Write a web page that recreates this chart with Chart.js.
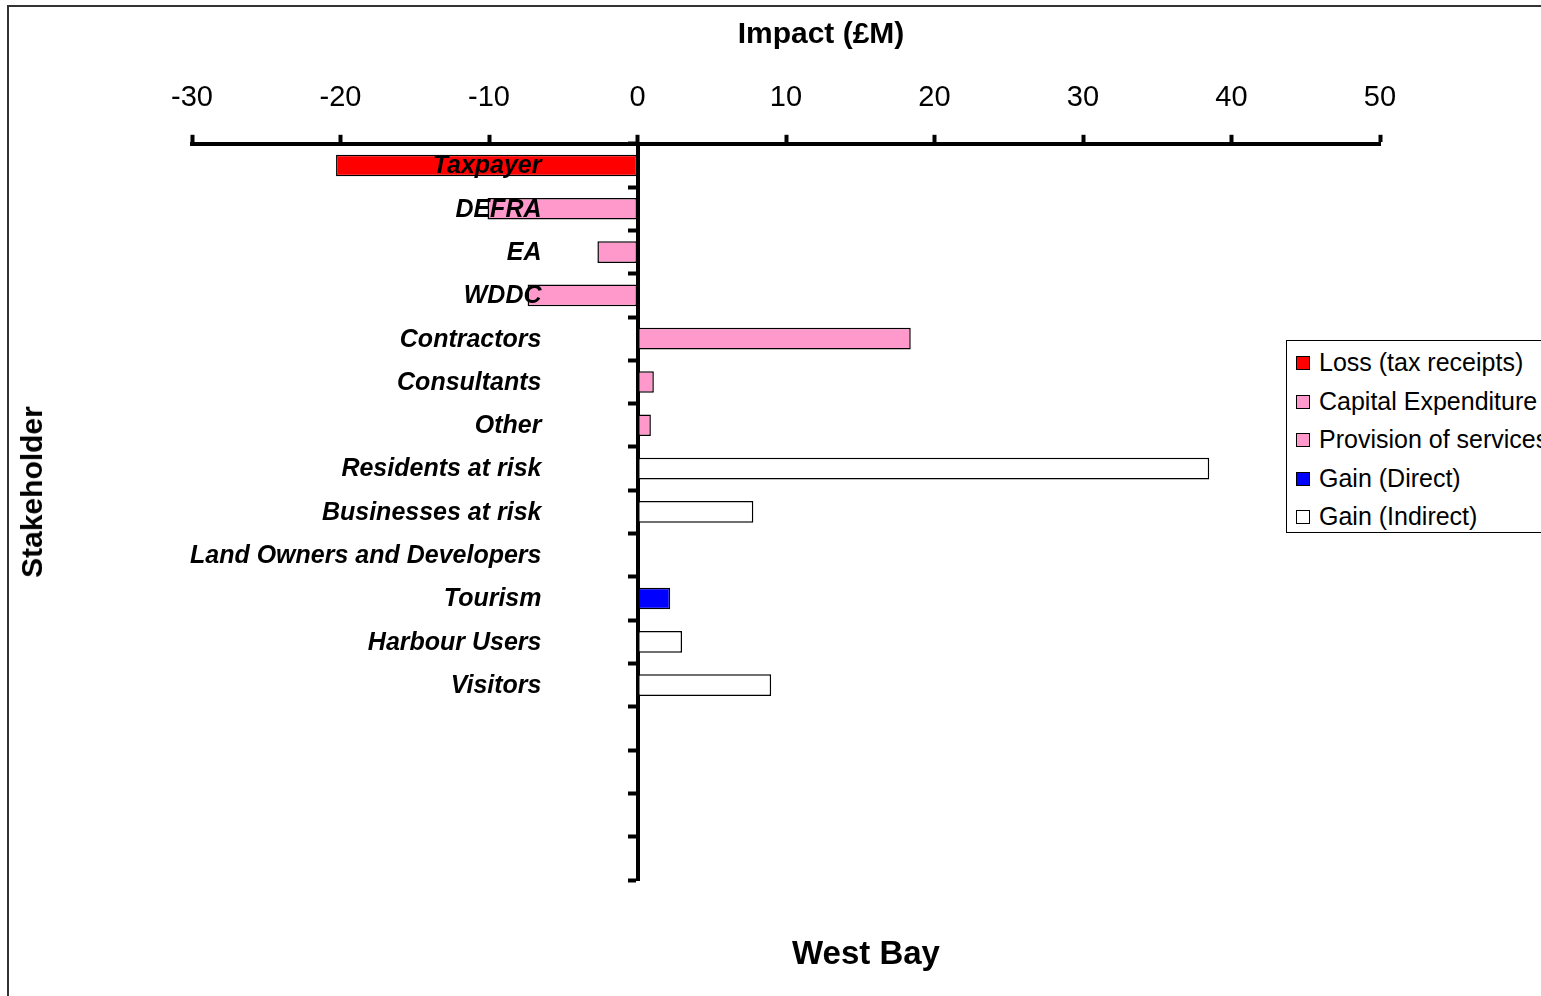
<!DOCTYPE html>
<html lang="en">
<head>
    <meta charset="UTF-8">
    <title>West Bay - Impact by Stakeholder</title>
    <script src="https://cdn.jsdelivr.net/npm/chart.js"></script>
    <style>
        html, body {
            margin: 0;
            padding: 0;
            background: #fff;
            overflow: hidden;
            font-family: "Liberation Sans", Arial, sans-serif;
        }

        #wrap {
            position: relative;
            width: 1541px;
            height: 996px;
        }

        /* frame runs off the right and bottom edge like the original */
        #frame {
            position: absolute;
            left: 7px;
            top: 5px;
            width: 1600px;
            height: 1100px;
            border-top: 2px solid #333;
            border-left: 2px solid #333;
        }

        .title {
            position: absolute;
            font-weight: bold;
            color: #000;
            white-space: nowrap;
        }

        #xTitle { left: 821px; top: 33px; font-size: 30px; transform: translate(-50%, -50%); }
        #yTitle { left: 32px; top: 492px; font-size: 30px; transform: translate(-50%, -50%) rotate(-90deg); }
        #subTitle { left: 866px; top: 953px; font-size: 33px; transform: translate(-50%, -50%); }

        #legend {
            position: absolute;
            left: 1286px;
            top: 340px;
            width: 300px;
            height: 191px;
            border: 1px solid #000;
            background: #fff;
            font-size: 25px;
        }

        .item {
            position: absolute;
            left: 9px;
            height: 30px;
            line-height: 30px;
            white-space: nowrap;
        }

        .item span.box {
            display: inline-block;
            width: 12px;
            height: 12px;
            border: 1px solid #000;
            margin-right: 9px;
            vertical-align: 1px;
        }

        canvas { position: absolute; left: 0; top: 0; }
    </style>
</head>
<body>
<div id="wrap">
    <div id="frame"></div>
    <canvas id="chart" width="1541" height="996"></canvas>
    <div class="title" id="xTitle">Impact (£M)</div>
    <div class="title" id="yTitle">Stakeholder</div>
    <div class="title" id="subTitle">West Bay</div>
    <div id="legend"></div>
</div>

<script>
    // stakeholders, top to bottom (4 empty slots at the end like the original)
    const stakeholders = [
        "Taxpayer", "DEFRA", "EA", "WDDC", "Contractors", "Consultants", "Other",
        "Residents at risk", "Businesses at risk", "Land Owners and Developers",
        "Tourism", "Harbour Users", "Visitors", "", "", "", ""
    ];

    // impact in £M, one value per stakeholder (null = no bar)
    const lossTax    = [-20.3, null, null, null, null, null, null, null, null, null, null, null, null, null, null, null, null];
    const capitalExp = [null, -10.1, -2.7, -7.4, 18.4, 1.1, 0.9, null, null, null, null, null, null, null, null, null, null];
    const provision  = [null, null, null, null, null, null, null, null, null, 0, null, null, null, null, null, null, null];
    const gainDirect = [null, null, null, null, null, null, null, null, null, null, 2.2, null, null, null, null, null, null];
    const gainIndir  = [null, null, null, null, null, null, null, 38.5, 7.8, null, null, 3.0, 9.0, null, null, null, null];

    const seriesNames = ["Loss (tax receipts)", "Capital Expenditure", "Provision of services", "Gain (Direct)", "Gain (Indirect)"];
    const seriesColors = ["#ff0000", "#ff99cc", "#ff99cc", "#0000ff", "#ffffff"];
    const seriesData = [lossTax, capitalExp, provision, gainDirect, gainIndir];

    const xMin = -30, xMax = 50, xStep = 10;

    const datasets = seriesData.map((d, i) => ({
        label: seriesNames[i],
        data: d,
        backgroundColor: seriesColors[i],
        borderColor: "#000",
        borderWidth: 1.5,
        borderSkipped: false,
        barPercentage: 0.5,
        categoryPercentage: 1.0
    }));

    // legend built by hand, it sits over the plot and runs off the page
    const legendEl = document.getElementById("legend");
    seriesNames.forEach((name, i) => {
        const item = document.createElement("div");
        item.className = "item";
        item.style.top = (6 + i * 38.5) + "px";
        item.innerHTML = '<span class="box" style="background:' + seriesColors[i] + '"></span>' + name;
        legendEl.appendChild(item);
    });

    // stakeholder names sit well left of the zero line and on top of the bars
    const stakeholderLabels = {
        id: "stakeholderLabels",
        afterDatasetsDraw(chart) {
            const c = chart.ctx;
            const xs = chart.scales.x;
            const ys = chart.scales.y;
            const right = xs.getPixelForValue(0) - 96;
            c.save();
            c.font = "italic bold 25px 'Liberation Sans', Arial, sans-serif";
            c.fillStyle = "#000";
            c.textAlign = "right";
            c.textBaseline = "middle";
            stakeholders.forEach((name, i) => {
                if (name) c.fillText(name, right, ys.getPixelForTick(i) + 1);
            });
            c.restore();
        }
    };

    const ctx = document.getElementById("chart").getContext("2d");
    new Chart(ctx, {
        type: "bar",
        data: { labels: stakeholders, datasets: datasets },
        plugins: [stakeholderLabels],
        options: {
            indexAxis: "y",
            responsive: false,
            animation: false,
            layout: {
                padding: { left: 192, right: 161, top: 62, bottom: 116 }
            },
            plugins: {
                legend: { display: false },
                tooltip: { enabled: false }
            },
            scales: {
                x: {
                    position: "top",
                    min: xMin,
                    max: xMax,
                    stacked: true,
                    ticks: {
                        stepSize: xStep,
                        color: "#000",
                        padding: 19,
                        font: { family: "'Liberation Sans', Arial, sans-serif", size: 29 }
                    },
                    grid: {
                        drawOnChartArea: false,
                        color: "#000",
                        tickLength: 9,
                        tickWidth: 4
                    },
                    border: { color: "#000", width: 4 }
                },
                y: {
                    position: { x: 0 },
                    stacked: true,
                    offset: true,
                    ticks: {
                        color: "rgba(0,0,0,0)",
                        autoSkip: false,
                        font: { size: 25 }
                    },
                    grid: {
                        offset: true,
                        drawOnChartArea: false,
                        color: "#000",
                        tickLength: 8,
                        tickWidth: 4
                    },
                    border: { color: "#000", width: 4 }
                }
            }
        }
    });
</script>
</body>
</html>
